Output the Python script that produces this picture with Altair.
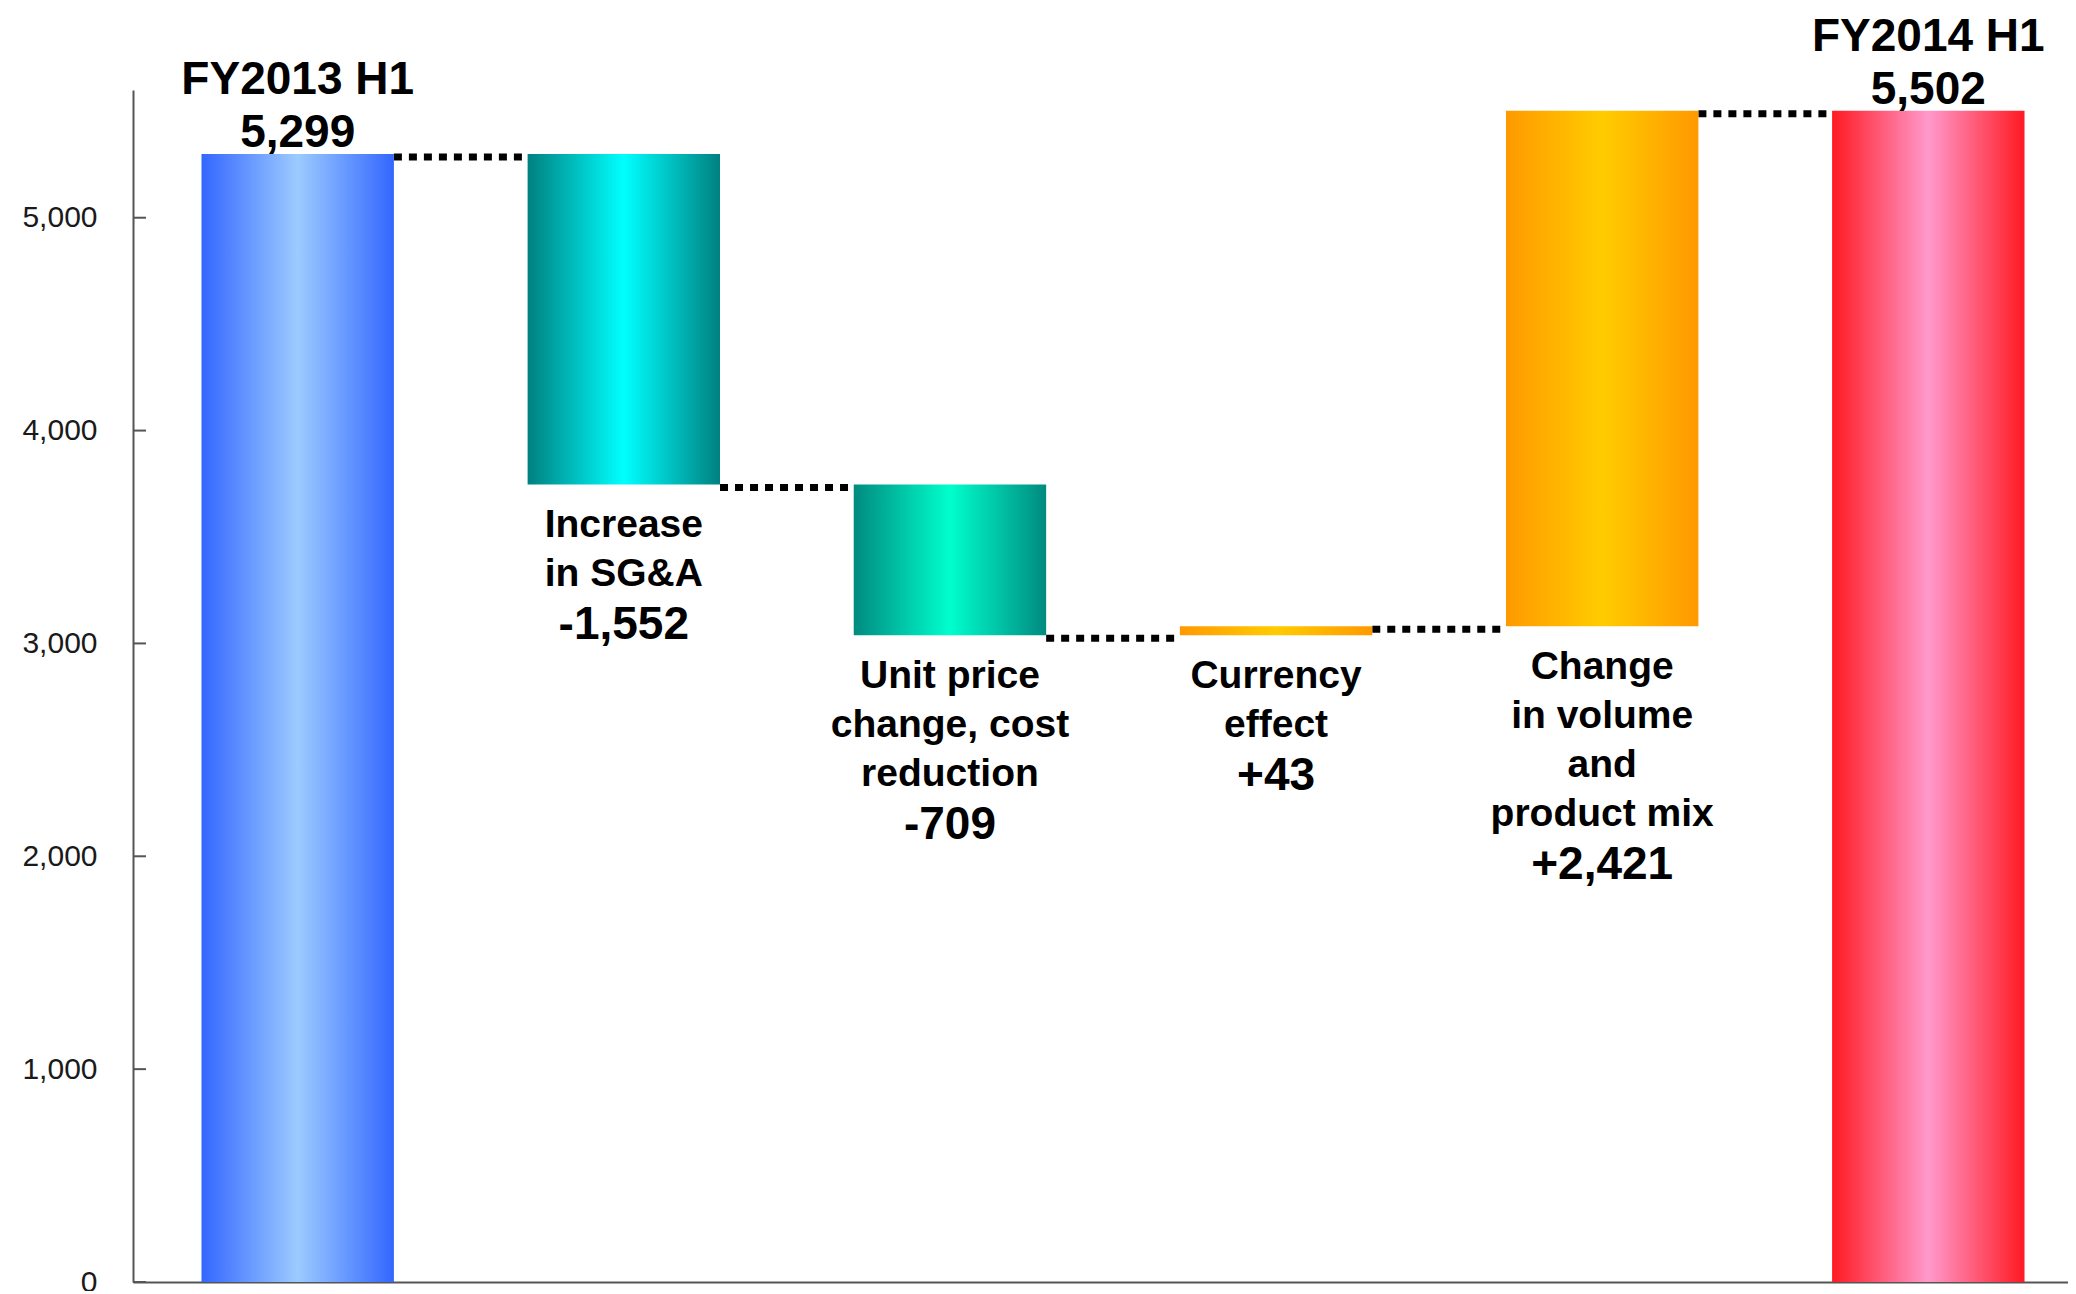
import altair as alt
import pandas as pd

# ---- data ----
categories = ["FY2013 H1", "Increase in SG&A", "Unit price change, cost reduction",
              "Currency effect", "Change in volume and product mix", "FY2014 H1"]
amounts = [5299, -1552, -709, 43, 2421, 5502]
is_total = [True, False, False, False, False, True]
value_labels = ["5,299", "-1,552", "-709", "+43", "+2,421", "5,502"]
label_lines = [
    ["FY2013 H1"],
    ["Increase", "in SG&A"],
    ["Unit price", "change, cost", "reduction"],
    ["Currency", "effect"],
    ["Change", "in volume", "and", "product mix"],
    ["FY2014 H1"],
]
y_ticks = [0, 1000, 2000, 3000, 4000, 5000]

# ---- styles ----
gradient_colors = [
    ("#3366FF", "#9CCBFF"),
    ("#008080", "#00FFFF"),
    ("#008A80", "#00FFCC"),
    ("#FF9900", "#FFCC00"),
    ("#FF9900", "#FFCC00"),
    ("#FF1A22", "#FF99CC"),
]
FONT = "Liberation Sans"

# ---- build table ----
starts, ends = [], []
running = 0
for amt, tot in zip(amounts, is_total):
    if tot:
        starts.append(0)
        ends.append(amt)
        running = amt
    else:
        starts.append(running)
        running = running + amt
        ends.append(running)

df = pd.DataFrame({
    "cat": categories,
    "start": starts,
    "end": ends,
    "low": [min(s, e) for s, e in zip(starts, ends)],
    "high": [max(s, e) for s, e in zip(starts, ends)],
    "vlabel": value_labels,
    "lines": label_lines,
})

conn = pd.DataFrame({
    "cat": categories[:-1],
    "next": categories[1:],
    "level": ends[:-1],
})

ticks_df = pd.DataFrame({"t": y_ticks})

x_scale = alt.Scale(domain=categories, range=[0, 1960], paddingInner=0.41, paddingOuter=0.21)
y_scale = alt.Scale(domain=[0, 5600], nice=False, zero=True)

x_axis = alt.Axis(title=None, labels=False, ticks=False, domainColor="#555555",
                  domainWidth=2, grid=False)
y_axis = alt.Axis(title=None, values=y_ticks, labelExpr="format(datum.value, ',')",
                  grid=False, ticks=False,
                  labelFont=FONT, labelFontSize=30, labelColor="#1a1a1a", labelPadding=36,
                  domainColor="#555555", domainWidth=2)


def X(field, **kw):
    return alt.X(field, scale=x_scale, sort=categories, axis=x_axis, **kw)


def Y(field):
    return alt.Y(field, scale=y_scale, axis=y_axis)


base = alt.Chart(df)
layers = []

# axis ticks pointing inward
layers.append(
    alt.Chart(ticks_df).mark_rule(color="#555555", strokeWidth=2).encode(
        y=Y("t:Q"),
        x=alt.value(0), x2=alt.value(13),
    )
)

# dotted connectors
layers.append(
    alt.Chart(conn).mark_rule(color="black", strokeWidth=7, strokeDash=[8, 7]).encode(
        x=X("cat:N", bandPosition=1),
        x2=alt.X2("next:N", bandPosition=0),
        y=Y("level:Q"),
        yOffset=alt.value(3),
    )
)

for i, cat in enumerate(categories):
    edge, center = gradient_colors[i]
    grad = alt.Gradient(
        gradient="linear",
        stops=[alt.GradientStop(offset=0, color=edge),
               alt.GradientStop(offset=0.5, color=center),
               alt.GradientStop(offset=1, color=edge)],
        x1=0, x2=1, y1=0, y2=0,
    )
    sub = base.transform_filter(alt.datum.cat == cat)
    layers.append(
        sub.mark_bar(color=grad).encode(
            x=X("cat:N"),
            y=Y("low:Q"),
            y2="high:Q",
        )
    )
    n = len(label_lines[i])
    if is_total[i]:
        layers.append(
            sub.transform_calculate(txt="[datum.lines[0], datum.vlabel]").mark_text(
                font=FONT, fontWeight="bold", fontSize=46, lineHeight=53,
                baseline="bottom", align="center", dy=-50, color="black",
            ).encode(
                x=X("cat:N"),
                y=Y("high:Q"),
                text="txt:N",
            )
        )
    else:
        layers.append(
            sub.mark_text(
                font=FONT, fontWeight="bold", fontSize=39, lineHeight=49,
                baseline="top", align="center", dy=22, color="black",
            ).encode(
                x=X("cat:N"),
                y=Y("low:Q"),
                text="lines",
            )
        )
        layers.append(
            sub.mark_text(
                font=FONT, fontWeight="bold", fontSize=46,
                baseline="top", align="center", dy=70 + (n - 1) * 49, color="black",
            ).encode(
                x=X("cat:N"),
                y=Y("low:Q"),
                text="vlabel:N",
            )
        )

chart = alt.layer(*layers).properties(
    width=1935, height=1192,
    autosize=alt.AutoSizeParams(type="none"),
    padding={"left": 125, "top": 82, "right": 0, "bottom": 9},
    background="white",
).configure_view(stroke=None)

chart.save("out.html", embed_options={"renderer": "svg", "actions": False})
